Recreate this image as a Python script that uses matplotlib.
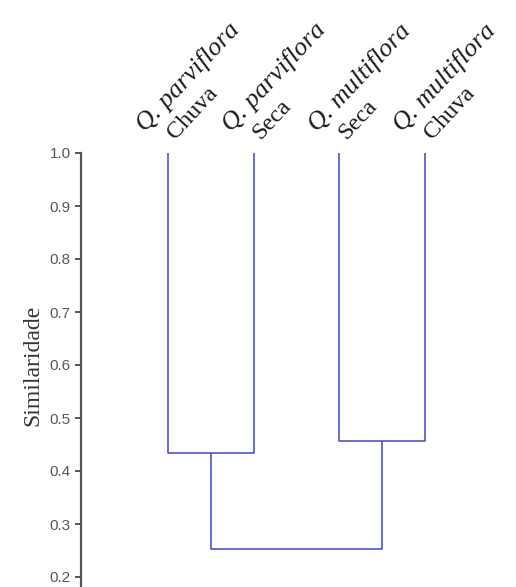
import numpy as np
import matplotlib.pyplot as plt

# Leaves of the dendrogram (left to right)
species = ["Q. parviflora", "Q. parviflora", "Q. multiflora", "Q. multiflora"]
season = ["Chuva", "Seca", "Seca", "Chuva"]

# Merges: (node a, node b, similarity); new nodes get ids 4, 5, 6
merges = [(0, 1, 0.434), (2, 3, 0.457), (4, 5, 0.252)]

yticks = [0.2, 0.3, 0.4, 0.5, 0.6, 0.7, 0.8, 0.9, 1.0]

line_color = '#5050d8'
W, H = 516, 587

fig = plt.figure(figsize=(W / 100, H / 100), dpi=100)
# axes placed in pixel units of the reference image
ax = fig.add_axes([81 / W, 0, 420 / W, 587 / H - 153 / H])
step = 85.67
ax.set_xlim(-87 / step, 3 + 76 / step)
ax.set_ylim(1.0 - (587 - 153) / 530, 1.0)

# node positions
xpos = {i: float(i) for i in range(len(species))}
hgt = {i: 1.0 for i in range(len(species))}
for k, (a, b, h) in enumerate(merges):
    ax.plot([xpos[a], xpos[a], xpos[b], xpos[b]], [hgt[a], h, h, hgt[b]],
            color=line_color, lw=1.2, solid_capstyle='butt')
    node = len(species) + k
    xpos[node] = (xpos[a] + xpos[b]) / 2
    hgt[node] = h

# axis styling
for s in ['top', 'right', 'bottom']:
    ax.spines[s].set_visible(False)
ax.spines['left'].set_color('#555555')
ax.spines['left'].set_linewidth(1.6)
ax.set_xticks([])
ax.set_yticks(yticks)
ax.set_yticklabels([f"{t:.1f}" for t in yticks])
ax.tick_params(axis='y', length=4.5, width=1.4, color='#555555',
               labelcolor='#555555', labelsize=11, pad=3)
for lab in ax.get_yticklabels():
    lab.set_family(['Liberation Sans Narrow', 'Liberation Sans'])

ax.set_ylabel("Similaridade", family='Liberation Serif', fontsize=17,
              color='#333333')
ax.yaxis.set_label_coords(-0.09, 0.51)

# leaf labels, rotated above each leaf
for i in range(len(species)):
    ax.annotate(species[i], xy=(xpos[i], 1.0), xytext=(-16, 15),
                textcoords='offset points', rotation=47,
                rotation_mode='anchor', ha='left', va='baseline',
                family='Liberation Serif', style='italic', fontsize=19,
                color='#1a1a1a', annotation_clip=False)
    ax.annotate(season[i], xy=(xpos[i], 1.0), xytext=(5, 9),
                textcoords='offset points', rotation=47,
                rotation_mode='anchor', ha='left', va='baseline',
                family='Liberation Serif', fontsize=17.5,
                color='#1a1a1a', annotation_clip=False)

fig.savefig('out.png', dpi=100)
